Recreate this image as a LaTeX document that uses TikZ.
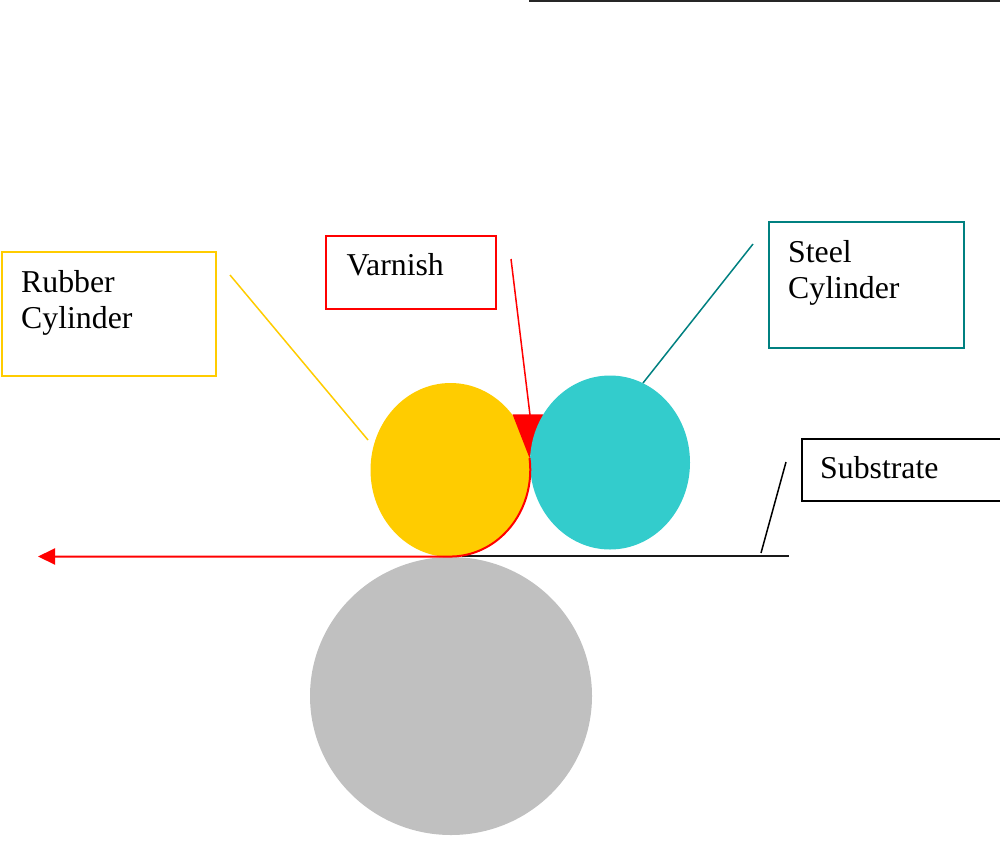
\documentclass[tikz,border=0pt]{standalone}
\usepackage{fontspec}
\setmainfont{Liberation Serif}
\usetikzlibrary{shapes.geometric,arrows.meta}
\definecolor{rubberc}{HTML}{FFCC00}
\definecolor{steelc}{HTML}{33CCCC}
\definecolor{tealc}{HTML}{008080}
\definecolor{greyc}{HTML}{C0C0C0}
\definecolor{varnc}{HTML}{FF0000}
\tikzset{
  lbl/.style={anchor=north west, inner sep=0pt, align=left, font=\fontsize{31.8}{36}\selectfont},
  frame/.style={anchor=north west, inner sep=0pt, line width=1.5pt},
  cyl/.style={ellipse, inner sep=0pt, draw=none},
  leader/.style={line width=1.5pt},
}
\begin{document}
\begin{tikzpicture}[x=1pt,y=-1pt]
\useasboundingbox (0,0) rectangle (1000,843);
% top rule
\coordinate (t1) at (529,0.8);
\coordinate (t2) at (1000,0.8);
\draw[line width=1.6pt, black!85] (t1) -- (t2);

% cylinders
\node[cyl, fill=greyc, minimum width=282, minimum height=278] (impr) at (451,696) {};
\node[cyl, fill=rubberc, minimum width=160, minimum height=174] (rubber) at (450.5,470) {};
\coordinate (v1) at (512.5,414.3);
\coordinate (v2) at (543.5,414.3);
\coordinate (v3) at (529.5,458);
\fill[varnc] (v1) -- (v2) -- (v3) -- cycle;
\node[cyl, fill=steelc, minimum width=160, minimum height=174] (steel) at (610,462.5) {};

% substrate line
\coordinate (s1) at (462,556);
\coordinate (s2) at (789,556);
\draw[line width=2pt, black!90] (s1) -- (s2);

% varnish film and web direction arrow
\coordinate (a0) at (38,556.5);
\draw[varnc, line width=2pt, -{Triangle[length=17pt,width=16pt]}]
  (v3) arc[start angle=-8, end angle=90, x radius=80, y radius=86.5] -- (a0);

% boxes
\node[frame, draw=rubberc, minimum width=214, minimum height=124] (rubberbox) at (1,251) {};
\node[lbl] (rubbertxt) at (21,270.3) {Rubber\\Cylinder};
\node[frame, draw=varnc, minimum width=170, minimum height=73] (varnbox) at (325,235) {};
\node[lbl] (varntxt) at (346.5,253.3) {Varnish};
\node[frame, draw=tealc, minimum width=195, minimum height=126] (steelbox) at (768,221) {};
\node[lbl] (steeltxt) at (788,240.3) {Steel\\Cylinder};
\node[frame, draw=black, minimum width=202, minimum height=62] (subbox) at (801,438) {};
\node[lbl] (subtxt) at (820,456.3) {Substrate};

% leaders
\coordinate (r1) at (230,275);
\coordinate (r2) at (368,440);
\draw[leader, rubberc] (r1) -- (r2);
\coordinate (w1) at (511,259);
\coordinate (w2) at (530,415);
\draw[leader, varnc] (w1) -- (w2);
\coordinate (c1) at (753,244);
\coordinate (c2) at (643,383);
\draw[leader, tealc] (c1) -- (c2);
\coordinate (b1) at (786,462);
\coordinate (b2) at (761,553);
\draw[leader, black] (b1) -- (b2);
\end{tikzpicture}
\end{document}
